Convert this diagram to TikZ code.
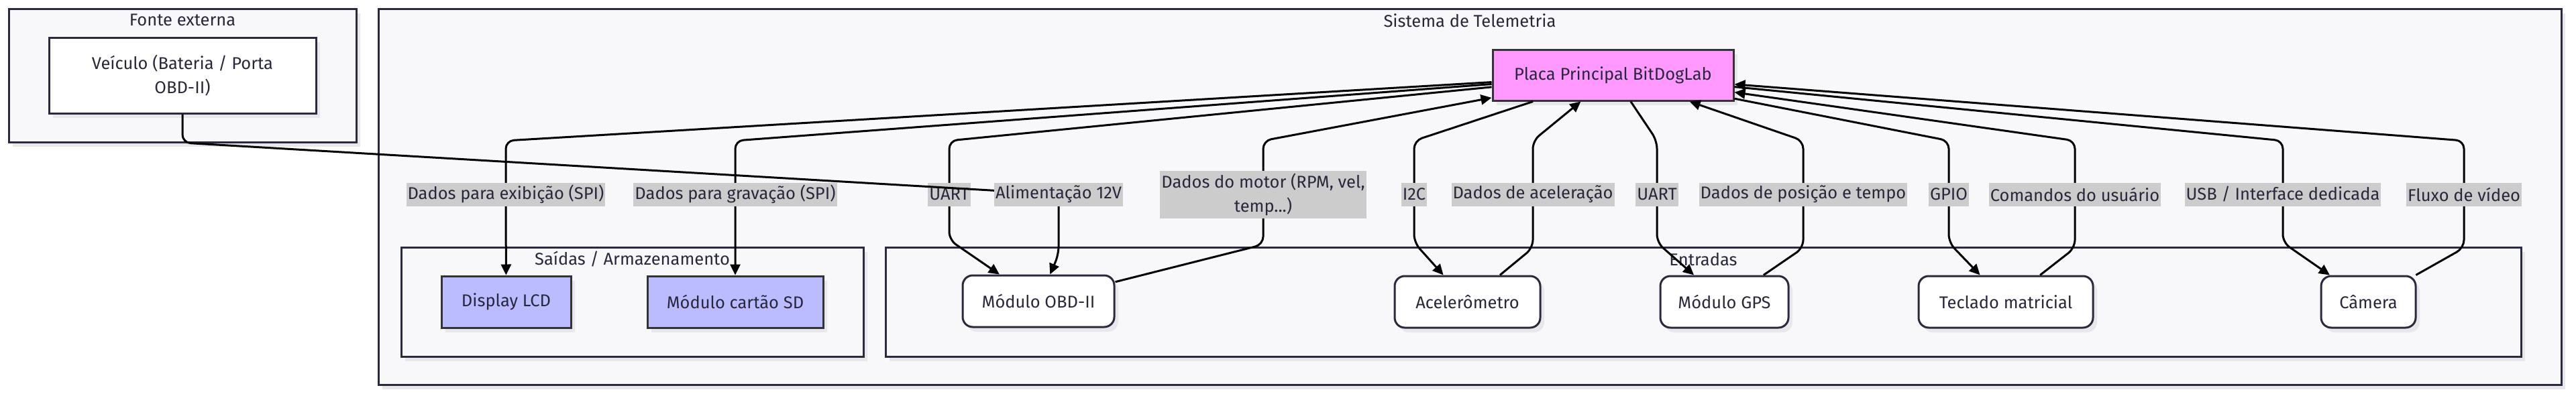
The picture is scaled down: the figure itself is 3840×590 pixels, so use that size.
\documentclass[tikz,border=0pt]{standalone}
\usepackage{fontspec}
\setmainfont{Fira Sans}
\usetikzlibrary{arrows.meta, shadows}
\definecolor{clusterfill}{RGB}{248,248,250}
\definecolor{darkline}{RGB}{42,42,62}
\definecolor{shadowgray}{RGB}{232,232,236}
\definecolor{labelgray}{RGB}{204,204,204}
\definecolor{boardpink}{RGB}{255,153,255}
\definecolor{outblue}{RGB}{187,187,255}
\definecolor{textnavy}{RGB}{40,40,60}
\tikzset{
	x=1pt, y=-1pt,
	every node/.style={font=\fontsize{25.5}{36}\selectfont, text=textnavy},
	shadowed/.style={drop shadow={shadow xshift=6pt, shadow yshift=-7pt, fill=shadowgray, opacity=1}},
	cluster/.style={draw=darkline, fill=clusterfill, line width=3pt, shadowed, inner sep=0pt},
	plainbox/.style={draw=darkline, fill=white, line width=3pt, shadowed, align=center, minimum height=113pt},
	board/.style={draw=black!80, fill=boardpink, line width=3pt, shadowed, minimum height=76pt},
	outbox/.style={draw=black!80, fill=outblue, line width=3pt, shadowed, minimum height=77pt},
	inbox/.style={draw=darkline, fill=white, line width=3pt, rounded corners=15pt, shadowed, minimum height=77pt},
	lbl/.style={fill=labelgray, sharp corners, inner xsep=2pt, inner ysep=0pt, minimum height=35pt, align=center},
	link/.style={draw=black, line width=3pt, rounded corners=12pt, -{Triangle[length=16pt,width=15pt]}}
}

\begin{document}
\begin{tikzpicture}
\useasboundingbox (0,0) rectangle (3840,590);

\node[cluster, minimum width=518pt, minimum height=199pt] (fonte) at (272,112.5) {};
\node (fontetitle) at (272,30) {Fonte externa};
\node[cluster, minimum width=3254pt, minimum height=561pt] (sistema) at (2191,293.5) {};
\node (sistematitle) at (2191,31) {Sistema de Telemetria};
\node[cluster, minimum width=689pt, minimum height=163pt] (saidas) at (942.5,450.5) {};
\node (saidastitle) at (942.5,387) {Saídas / Armazenamento};
\node[cluster, minimum width=2438pt, minimum height=163pt] (entradas) at (2539,450.5) {};
\node (entradastitle) at (2539,387) {Entradas};

\node[plainbox, minimum width=398pt] (veiculo) at (272,112.5) {Veículo (Bateria / Porta\\OBD-II)};
\node[board, minimum width=359pt] (placa) at (2404.5,112) {Placa Principal BitDogLab};
\node[outbox, minimum width=193pt] (display) at (754.5,450.5) {Display LCD};
\node[outbox, minimum width=262pt] (sd) at (1096,450.5) {Módulo cartão SD};
\node[inbox, minimum width=226pt] (obd) at (1548,449.5) {Módulo OBD-II};
\node[inbox, minimum width=217pt] (acel) at (2187.5,450.5) {Acelerômetro};
\node[inbox, minimum width=191pt] (gps) at (2570.5,450.5) {Módulo GPS};
\node[inbox, minimum width=260pt] (teclado) at (2990,450.5) {Teclado matricial};
\node[inbox, minimum width=141pt] (camera) at (3530.5,450.5) {Câmera};

\draw[link] (placa) -- (754,210) -- (754,290) node[lbl] {Dados para exibição (SPI)} -- (display);
\draw[link] (placa) -- (1096,210) -- (1096,290) node[lbl] {Dados para gravação (SPI)} -- (sd);
\draw[link] (placa) -- (1415,210) -- (1415,290) node[lbl] {UART} -- (1415,358) -- (obd);
\draw[link] (veiculo) -- (272,213) -- (1578,290) node[lbl] {Alimentação 12V} -- (1578,380) -- (obd);
\draw[link] (obd) -- (1883,365) -- (1883,290) node[lbl, minimum height=71pt] {Dados do motor (RPM, vel,\\temp...)} -- (1883,210) -- (placa);

\draw[link] (placa) -- (2108,210) -- (2108,290) node[lbl] {I2C} -- (2108,362) -- (acel);
\draw[link] (acel) -- (2285,370) -- (2285,290) node[lbl] {Dados de aceleração} -- (2285,210) -- (placa);
\draw[link] (placa) -- (2470,210) -- (2470,290) node[lbl] {UART} -- (2470,362) -- (gps);
\draw[link] (gps) -- (2688,370) -- (2688,290) node[lbl] {Dados de posição e tempo} -- (2688,210) -- (placa);
\draw[link] (placa) -- (2905,210) -- (2905,290) node[lbl] {GPIO} -- (2905,362) -- (teclado);
\draw[link] (teclado) -- (3093,370) -- (3093,290) node[lbl] {Comandos do usuário} -- (3093,210) -- (placa);
\draw[link] (placa) -- (3403,210) -- (3403,290) node[lbl] {USB / Interface dedicada} -- (3403,362) -- (camera);
\draw[link] (camera) -- (3673,370) -- (3673,290) node[lbl] {Fluxo de vídeo} -- (3673,210) -- (placa);
\end{tikzpicture}
\end{document}
